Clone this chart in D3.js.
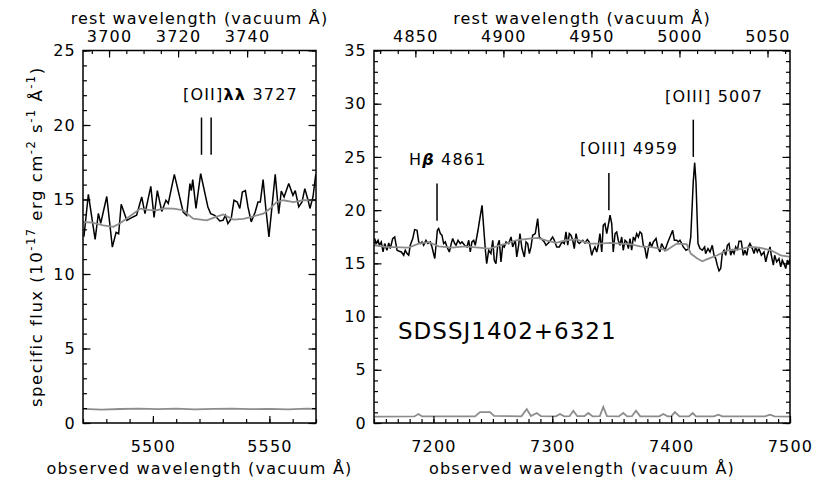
<!DOCTYPE html>
<html>
<head>
<meta charset="utf-8">
<script src="https://cdn.jsdelivr.net/npm/d3@7"></script>
<style>
  body { margin: 0; background: #fff; }
  svg text { font-family: "DejaVu Sans", sans-serif; font-size: 16px; letter-spacing: 1.2px; fill: #000; }
</style>
</head>
<body>
<svg id="chart" width="830" height="499"></svg>
<script>
// redshift used for the rest-frame axes and for the line markers
const ONE_PLUS_Z = 1.4814;
const ONE_PLUS_Z_LINES = 1.4817;

const leftObsRange = [5470, 5570];
const leftFluxRange = [0, 25];
const leftObsTicks = [5500, 5550];
const leftRestTicks = [3700, 3720, 3740];
const leftFluxTicks = [0, 5, 10, 15, 20, 25];

const rightObsRange = [7150, 7500];
const rightFluxRange = [0, 35];
const rightObsTicks = [7200, 7300, 7400, 7500];
const rightRestTicks = [4850, 4900, 4950, 5000, 5050];
const rightFluxTicks = [0, 5, 10, 15, 20, 25, 30, 35];

// [observed wavelength, flux]
const leftSpec = [
  [5470.4,12.5],[5472.3,15.35],[5475.2,12.33],[5476.6,14.07],[5477.6,13.4],[5480.2,15.2],
  [5482.6,11.8],[5484.2,12.8],[5485.3,12.7],[5486.4,14.68],[5488.8,13.6],[5490.5,13.75],
  [5493.0,13.94],[5495.2,15.17],[5496.6,14.05],[5499.1,15.88],[5500.5,13.8],[5501.9,15.6],
  [5503.8,14.2],[5505.6,14.95],[5506.6,14.74],[5509.2,16.69],[5513.0,14.16],[5514.5,13.94],
  [5515.9,16.07],[5516.5,15.6],[5517.1,16.33],[5518.5,14.4],[5520.5,16.74],[5523.6,14.5],
  [5524.8,14.05],[5526.5,13.94],[5528.7,13.56],[5530.1,13.6],[5531.1,13.94],[5532.2,13.38],
  [5533.6,13.71],[5534.8,14.95],[5536.2,14.83],[5537.3,14.4],[5538.4,15.5],[5539.7,15.6],
  [5540.8,14.5],[5542.2,13.5],[5543.9,14.16],[5545.1,14.83],[5546.1,14.83],[5547.3,16.33],
  [5548.4,14.5],[5549.8,12.49],[5551.1,14.5],[5552.5,16.69],[5554.0,14.05],[5555.1,15.57],
  [5556.3,15.17],[5558.3,16.07],[5560.1,15.28],[5561.1,15.6],[5562.6,14.5],[5564.0,14.83],
  [5565.2,15.73],[5566.6,14.95],[5567.4,14.4],[5568.7,15.17],[5569.9,16.69]
];
const leftModel = [
  [5470,13.49],[5474,13.45],[5478.7,13.27],[5483,13.16],[5485.9,13.4],[5491.6,14.05],
  [5494.5,14.39],[5498,14.3],[5501.6,14.28],[5505,14.4],[5508.8,14.39],[5513,14.28],
  [5517.3,13.72],[5523.1,13.6],[5527.4,13.85],[5530.2,14.0],[5534.5,13.65],[5538.8,13.7],
  [5543.1,13.87],[5547.4,14.05],[5550.3,14.39],[5553.1,14.83],[5556,14.95],[5560.3,14.83],
  [5564.5,14.95],[5570,14.95]
];
const leftErr = [
  [5470,0.95],[5478,0.9],[5486,0.94],[5494,0.97],[5502,0.93],[5510,0.96],[5518,0.92],
  [5526,0.95],[5534,0.97],[5542,0.93],[5550,0.95],[5558,0.92],[5566,0.96],[5570,0.95]
];

const rightSpec = [
  [7150.6,17.33],[7151.7,16.86],[7153.4,17.17],[7154.5,16.7],[7156.1,17.01],[7157.6,16.07],
  [7159.0,16.86],[7160.9,16.23],[7162.4,16.92],[7163.7,16.39],[7165.7,17.33],[7167.4,17.48],
  [7169.4,16.23],[7171.3,16.14],[7173.0,16.07],[7175.0,15.76],[7176.3,16.23],[7177.8,15.92],
  [7179.2,15.76],[7180.5,16.7],[7182.6,17.33],[7184.2,18.17],[7186.2,18.11],[7187.6,17.01],
  [7189.0,16.86],[7190.4,17.01],[7191.8,16.7],[7193.7,17.17],[7195.4,16.86],[7197.4,17.01],
  [7198.8,16.54],[7201.1,15.45],[7202.2,16.7],[7203.3,18.11],[7204.4,18.27],[7205.8,17.8],
  [7207.2,17.64],[7208.6,16.86],[7210.0,17.01],[7211.4,16.54],[7213.4,16.07],[7215.0,16.86],
  [7216.2,17.33],[7217.9,16.86],[7219.0,16.7],[7220.7,17.17],[7222.6,16.86],[7224.0,17.01],
  [7226.3,16.7],[7228.2,16.54],[7229.7,17.17],[7231.0,16.07],[7232.4,17.01],[7233.9,17.17],
  [7235.2,16.7],[7237.5,18.11],[7238.6,18.89],[7240.9,20.45],[7243.6,16.39],[7244.8,14.98],
  [7246.5,16.23],[7248.4,15.92],[7249.9,17.17],[7251.2,15.29],[7252.6,14.98],[7254.1,16.7],
  [7255.4,17.17],[7256.8,15.14],[7258.3,16.7],[7259.6,16.54],[7261.1,17.01],[7263.3,16.86],
  [7265.3,17.48],[7266.7,16.54],[7268.9,17.17],[7270.1,15.6],[7271.7,16.7],[7272.8,17.8],
  [7274.5,16.39],[7276.5,15.6],[7277.9,17.01],[7279.3,16.86],[7280.7,15.92],[7282.1,16.54],
  [7283.5,17.64],[7285.7,17.8],[7287.7,19.2],[7289.1,17.48],[7290.5,17.33],[7293.3,17.01],
  [7294.7,16.7],[7297.5,17.01],[7300.3,17.48],[7301.7,17.17],[7303.7,16.54],[7305.9,16.54],
  [7308.2,17.01],[7310.1,16.86],[7311.5,17.95],[7313.0,16.7],[7314.3,17.8],[7315.7,17.64],
  [7317.2,17.17],[7318.5,16.39],[7320.0,17.8],[7321.4,17.01],[7322.7,16.86],[7325.6,17.17],
  [7327.5,16.92],[7329.5,17.24],[7331.1,17.01],[7333.2,15.76],[7334.5,16.23],[7335.9,16.54],
  [7337.4,16.07],[7338.7,16.7],[7340.1,17.8],[7341.6,16.07],[7342.9,18.58],[7344.3,18.74],
  [7345.8,17.8],[7347.1,18.58],[7348.6,19.52],[7350.0,18.74],[7351.3,16.07],[7352.8,17.8],
  [7354.2,17.95],[7355.5,17.17],[7357.0,16.7],[7358.4,17.48],[7359.7,16.23],[7361.2,17.17],
  [7362.6,17.01],[7364.0,16.39],[7365.4,17.33],[7366.8,16.23],[7368.2,17.48],[7369.6,17.17],
  [7371.0,17.8],[7372.4,17.48],[7373.8,17.95],[7375.2,17.8],[7376.6,16.7],[7378.0,16.39],
  [7379.4,15.45],[7380.8,16.39],[7382.2,17.01],[7383.6,16.54],[7385.0,17.01],[7387.3,17.33],
  [7388.7,16.54],[7390.6,16.07],[7392.0,16.86],[7393.4,16.54],[7394.8,16.23],[7396.8,16.86],
  [7399.0,17.48],[7401.3,18.11],[7402.7,17.17],[7404.7,17.17],[7406.0,17.01],[7407.4,17.17],
  [7408.9,16.86],[7410.2,16.54],[7412.5,16.23],[7415.0,16.39],[7416.5,17.48],[7418.6,22.64],
  [7419.8,24.46],[7420.9,22.64],[7422.0,18.89],[7422.6,16.86],[7424.3,16.39],[7426.2,16.23],
  [7428.2,16.54],[7429.0,15.92],[7431.0,16.39],[7432.7,16.07],[7434.6,16.7],[7436.1,15.76],
  [7437.5,15.45],[7438.8,14.83],[7440.3,14.3],[7441.7,14.51],[7443.0,15.92],[7444.5,16.23],
  [7445.9,15.76],[7447.3,16.7],[7448.7,16.86],[7450.1,15.76],[7451.5,16.23],[7452.9,15.92],
  [7454.3,16.54],[7455.7,16.23],[7457.1,17.08],[7459.0,17.08],[7460.7,15.76],[7462.1,16.23],
  [7463.6,15.76],[7464.9,16.54],[7466.3,16.86],[7468.3,16.39],[7469.7,15.92],[7471.1,16.54],
  [7472.5,16.07],[7473.9,16.39],[7475.9,15.76],[7478.1,16.07],[7479.6,15.14],[7480.9,15.76],
  [7482.3,16.23],[7483.2,16.54],[7484.3,15.76],[7486.0,14.83],[7487.1,15.76],[7488.8,15.14],
  [7490.7,15.45],[7492.2,14.67],[7493.5,15.3],[7494.9,14.98],[7496.4,14.51],[7497.8,15.3],
  [7499.2,14.98],[7500.0,15.45]
];
const rightModel = [
  [7150,16.7],[7159.5,16.54],[7179.2,16.48],[7187.6,16.86],[7196,17.0],[7204.4,16.6],
  [7215.6,16.48],[7226.8,16.6],[7238.1,16.48],[7247,16.39],[7261.1,16.86],[7269.5,17.17],
  [7280.7,17.33],[7287.7,17.4],[7294.7,17.17],[7303.1,16.92],[7311.5,17.17],[7320,17.25],
  [7331.7,16.86],[7340.1,16.86],[7348.6,16.92],[7357,16.86],[7365.4,16.8],[7373.8,16.6],
  [7382.2,16.54],[7390.6,16.39],[7396.2,16.23],[7404.7,16.86],[7413.1,16.8],[7416.5,15.92],
  [7422,15.45],[7426.2,15.2],[7430.4,15.39],[7438.8,15.76],[7447.3,16.23],[7455.7,16.3],
  [7466.9,16.54],[7475.3,16.45],[7483.8,16.23],[7492.2,15.76],[7500,15.6]
];
const rightErr = [
  [7150,0.6],[7184,0.62],[7187.3,0.84],[7190.5,0.62],[7235,0.62],[7239.2,1.03],[7247.6,1.03],
  [7251,0.66],[7274,0.62],[7278.5,1.31],[7282,0.66],[7286.9,0.94],[7290.5,0.64],[7303,0.62],
  [7306.5,0.84],[7310,0.62],[7314.5,0.64],[7317.7,1.15],[7321,0.64],[7327,0.64],[7330.3,0.94],
  [7334,0.62],[7340,0.64],[7342.9,1.5],[7346,0.64],[7356,0.62],[7359.7,0.94],[7363,0.62],
  [7367,0.64],[7370.4,1.15],[7374,0.62],[7390,0.62],[7393.4,0.84],[7397,0.62],[7400,0.62],
  [7403.2,1.03],[7407,0.62],[7415,0.62],[7418.1,0.94],[7421,0.62],[7436,0.62],[7439.7,0.78],
  [7443,0.62],[7479,0.62],[7483.2,0.78],[7487,0.62],[7500,0.6]
];

// line markers: [rest wavelength, flux from, flux to]
const leftMarkers = [[3726.03, 18, 20.5], [3728.82, 18, 20.5]];
const rightMarkers = [[4861.33, 19, 22.5], [4958.91, 20, 23.5], [5006.84, 25, 28.5]];

// labels: [text, observed wavelength of left edge, flux of baseline]
const leftLabels = [["[OII]λλ 3727", 5512.9, 21.65]];
const rightLabels = [
  ["Hβ 4861", 7179.4, 24.2],
  ["[OIII] 4959", 7323.3, 25.24],
  ["[OIII] 5007", 7394.8, 30.12]
];
const objectName = ["SDSSJ1402+6321", 7170.2, 7.88];

const svg = d3.select("#chart");
const plotTop = 50.5, plotBottom = 423;
const specColor = "#000", modelColor = "#8c8c8c";

const panels = [
  {
    x0: 83, x1: 316, obs: leftObsRange, flux: leftFluxRange,
    obsTicks: leftObsTicks, obsMinor: 10, restTicks: leftRestTicks, restMinor: 5,
    fluxTicks: leftFluxTicks, spec: leftSpec, model: leftModel, err: leftErr,
    markers: leftMarkers, labels: leftLabels
  },
  {
    x0: 374, x1: 790, obs: rightObsRange, flux: rightFluxRange,
    obsTicks: rightObsTicks, obsMinor: 10, restTicks: rightRestTicks, restMinor: 10,
    fluxTicks: rightFluxTicks, spec: rightSpec, model: rightModel, err: rightErr,
    markers: rightMarkers, labels: rightLabels, name: objectName
  }
];

function minorTicks(domain, step) {
  return d3.range(Math.ceil(domain[0] / step) * step, domain[1] + 1e-6, step);
}

function styleAxis(sel) {
  sel.attr("font-family", null).attr("font-size", null);
  sel.select(".domain").remove();
  sel.selectAll(".tick line").attr("stroke", "#000").attr("stroke-width", 1.2);
}

// greek letters drawn bold, beta also italic
function addLabel(g, str, x, y) {
  const t = g.append("text").attr("x", x).attr("y", y);
  str.split(/([α-ωΑ-Ω]+)/).filter((s) => s.length).forEach((s) => {
    const span = t.append("tspan").text(s);
    if (/[α-ωΑ-Ω]/.test(s)) {
      span.attr("font-weight", "bold");
      if (s.includes("β")) span.attr("font-style", "italic");
    }
  });
  return t;
}

panels.forEach((p, i) => {
  const w = p.x1 - p.x0, h = plotBottom - plotTop;
  const g = svg.append("g").attr("transform", `translate(${p.x0},${plotTop})`);

  const x = d3.scaleLinear().domain(p.obs).range([0, w]);
  const rest = d3.scaleLinear().domain(p.obs.map((v) => v / ONE_PLUS_Z)).range([0, w]);
  const y = d3.scaleLinear().domain(p.flux).range([h, 0]);

  g.append("clipPath").attr("id", `clip${i}`)
    .append("rect").attr("width", w).attr("height", h);
  const plot = g.append("g").attr("clip-path", `url(#clip${i})`);

  const line = d3.line().x((d) => x(d[0])).y((d) => y(d[1]));

  plot.append("path").datum(p.err).attr("d", line)
    .attr("fill", "none").attr("stroke", modelColor).attr("stroke-width", 1.8);
  plot.append("path").datum(p.spec).attr("d", line)
    .attr("fill", "none").attr("stroke", specColor).attr("stroke-width", 1.5)
    .attr("stroke-linejoin", "miter").attr("stroke-miterlimit", 3);
  plot.append("path").datum(p.model).attr("d", line)
    .attr("fill", "none").attr("stroke", modelColor).attr("stroke-width", 1.8);

  // bottom axis (observed)
  g.append("g").attr("transform", `translate(0,${h})`)
    .call(d3.axisBottom(x).tickValues(minorTicks(p.obs, p.obsMinor)).tickSize(-4).tickFormat(""))
    .call(styleAxis);
  g.append("g").attr("transform", `translate(0,${h})`)
    .call(d3.axisBottom(x).tickValues(p.obsTicks).tickSize(-7).tickPadding(17.5).tickFormat(d3.format("d")))
    .call(styleAxis);

  // top axis (rest frame)
  g.append("g")
    .call(d3.axisTop(rest).tickValues(minorTicks(rest.domain(), p.restMinor)).tickSize(-3.5).tickFormat(""))
    .call(styleAxis);
  g.append("g")
    .call(d3.axisTop(rest).tickValues(p.restTicks).tickSize(-7).tickPadding(8.5).tickFormat(d3.format("d")))
    .call(styleAxis);

  // left and right flux axes
  const fluxMinor = minorTicks(p.flux, 1);
  g.append("g")
    .call(d3.axisLeft(y).tickValues(fluxMinor).tickSize(-4).tickFormat(""))
    .call(styleAxis);
  g.append("g")
    .call(d3.axisLeft(y).tickValues(p.fluxTicks).tickSize(-7.5).tickPadding(7).tickFormat(d3.format("d")))
    .call(styleAxis);
  g.append("g").attr("transform", `translate(${w},0)`)
    .call(d3.axisRight(y).tickValues(fluxMinor).tickSize(-4).tickFormat(""))
    .call(styleAxis);
  g.append("g").attr("transform", `translate(${w},0)`)
    .call(d3.axisRight(y).tickValues(p.fluxTicks).tickSize(-7.5).tickFormat(""))
    .call(styleAxis);

  g.append("rect").attr("width", w).attr("height", h)
    .attr("fill", "none").attr("stroke", "#000").attr("stroke-width", 1.5);

  // line markers
  g.selectAll(".marker").data(p.markers).join("line")
    .attr("class", "marker")
    .attr("x1", (d) => x(d[0] * ONE_PLUS_Z_LINES)).attr("x2", (d) => x(d[0] * ONE_PLUS_Z_LINES))
    .attr("y1", (d) => y(d[1])).attr("y2", (d) => y(d[2]))
    .attr("stroke", "#000").attr("stroke-width", 1.5);

  p.labels.forEach((d) => addLabel(g, d[0], x(d[1]), y(d[2])));

  if (p.name) {
    g.append("text").attr("x", x(p.name[1])).attr("y", y(p.name[2]))
      .style("font-size", "23px").style("letter-spacing", "1px")
      .text(p.name[0]);
  }

  // axis titles
  g.append("text").attr("x", w / 2).attr("y", -26.5)
    .attr("text-anchor", "middle").text("rest wavelength (vacuum Å)");
  g.append("text").attr("x", w / 2).attr("y", h + 51)
    .attr("text-anchor", "middle").text("observed wavelength (vacuum Å)");
});

// y-axis title with superscripts
const yTitle = svg.append("text")
  .attr("transform", `translate(42,${(plotTop + plotBottom) / 2}) rotate(-90)`)
  .attr("text-anchor", "middle")
  .style("font-size", "16.5px").style("letter-spacing", "1.5px");
[["specific flux (10", false], ["-17", true], [" erg cm", false], ["-2", true],
 [" s", false], ["-1", true], [" Å", false], ["-1", true], [")", false]].forEach(([s, sup], k, arr) => {
  const prevSup = k > 0 && arr[k - 1][1];
  const span = yTitle.append("tspan").text(s);
  if (sup) span.attr("dy", -7).style("font-size", "11.5px");
  else if (prevSup) span.attr("dy", 7);
});
</script>
</body>
</html>
